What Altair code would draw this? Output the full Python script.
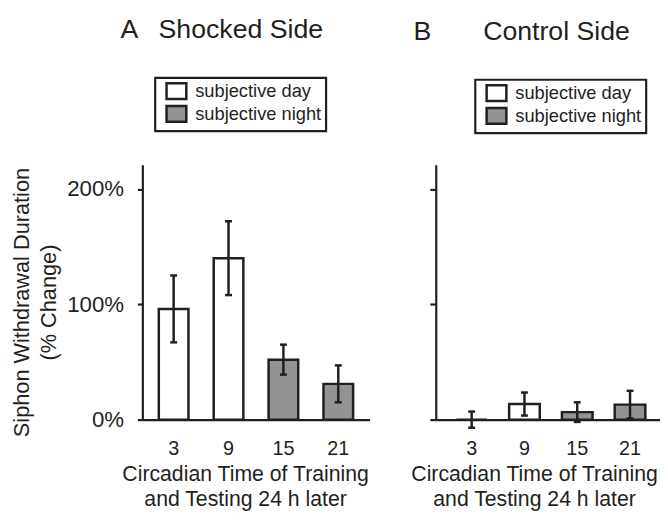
import altair as alt
import pandas as pd

# ---- data ----
ct = ["3", "9", "15", "21"]
phase = ["subjective day", "subjective day", "subjective night", "subjective night"]
shocked_mean = [96, 140, 52, 31]
shocked_sem = [29, 32, 13, 16]
control_mean = [0, 13.5, 6.5, 13]
control_sem = [7, 10, 8.5, 12]
phase_domain = ["subjective day", "subjective night"]
y_ticks = [0, 100, 200]

INK = "#231f20"
GRAY = "#939393"
FONT = "Liberation Sans"
PLOT_H = 258


def panel(means, sems, title_text, title_dx, legend_x, legend_y, width,
          pad_inner, pad_outer, show_y_labels, x_title_x):
    df = pd.DataFrame({
        "ct": ct,
        "phase": phase,
        "mean": means,
        "lo": [m - s for m, s in zip(means, sems)],
        "hi": [m + s for m, s in zip(means, sems)],
    })
    y_scale = alt.Scale(domain=[0, 221], nice=False, zero=False)
    x_axis = alt.Axis(
        labelAngle=0, labelFontSize=20, labelPadding=19, ticks=False, tickSize=0,
        title=["Circadian Time of Training", "and Testing 24 h later"],
        titleFontSize=21.5, titleLineHeight=25.5, titlePadding=5.5,
        titleFontWeight="normal", titleX=x_title_x,
    )
    if show_y_labels:
        y_axis = alt.Axis(
            values=y_ticks, labelExpr="datum.value + '%'", labelFontSize=22.5,
            labelPadding=14, tickSize=5,
            title=["Siphon Withdrawal Duration", "(% Change)"],
            titleFontSize=22, titleLineHeight=28, titlePadding=6,
            titleFontWeight="normal", titleY=139,
        )
    else:
        y_axis = alt.Axis(values=y_ticks, labels=False, tickSize=6, title=None)

    x = alt.X("ct:N", sort=ct,
              scale=alt.Scale(paddingInner=pad_inner, paddingOuter=pad_outer),
              axis=x_axis)
    base = alt.Chart(df)
    bars = base.mark_bar(stroke=INK, strokeWidth=2.5).encode(
        x=x,
        y=alt.Y("mean:Q", scale=y_scale, axis=y_axis),
        fill=alt.Fill(
            "phase:N",
            scale=alt.Scale(domain=phase_domain, range=["white", GRAY]),
            legend=alt.Legend(
                title=None, orient="none", legendX=legend_x, legendY=legend_y,
                symbolType="M-1.25,-1H1.25V1H-1.25Z", symbolSize=256,
                symbolStrokeColor=INK, symbolStrokeWidth=2.5, symbolOffset=8,
                labelFontSize=18.5, labelFont=FONT, labelColor=INK,
                labelOffset=9.5, labelLimit=400, rowPadding=-4.3, padding=4,
                strokeColor=INK,
            ),
        ),
    )
    rules = base.mark_rule(color=INK, strokeWidth=2.5).encode(
        x=alt.X("ct:N", sort=ct), y=alt.Y("lo:Q"), y2="hi:Q"
    )
    cap_hi = base.mark_tick(color=INK, thickness=2.5, size=7, opacity=1).encode(
        x=alt.X("ct:N", sort=ct), y=alt.Y("hi:Q")
    )
    cap_lo = base.mark_tick(color=INK, thickness=2.5, size=7, opacity=1).encode(
        x=alt.X("ct:N", sort=ct), y=alt.Y("lo:Q")
    )
    return alt.layer(bars, rules, cap_hi, cap_lo).properties(
        width=width, height=PLOT_H,
        title=alt.TitleParams(text=title_text, anchor="start", frame="group",
                              dx=title_dx, offset=33),
    )


left = panel(shocked_mean, shocked_sem, "A\u00a0\u00a0\u2009Shocked Side", -22,
             13, -88, 230, 0.46, 0.3, True, 104)
right = panel(control_mean, control_sem,
              "B\u00a0\u00a0\u00a0\u00a0\u00a0\u00a0\u00a0Control Side", -22.5,
              40, -86, 233, 0.42, 0.39, False, 99.5)

chart = (
    alt.hconcat(left, right, spacing=67, bounds="flush")
    .resolve_scale(fill="independent", x="independent", y="independent")
    .resolve_legend(fill="independent")
    .properties(
        autosize=alt.AutoSizeParams(type="none"),
        padding={"left": 136, "top": 154, "right": 524, "bottom": 349},
    )
    .configure_view(stroke=None)
    .configure_axis(
        domainColor=INK, tickColor=INK, labelColor=INK, titleColor=INK,
        labelFont=FONT, titleFont=FONT, grid=False, domainWidth=2.2,
        tickWidth=2.2,
    )
    .configure_legend(strokeWidth=2.2)
    .configure_title(font=FONT, color=INK, fontSize=27, fontWeight="normal")
)

chart.save("out.html", embed_options={"renderer": "svg", "actions": False})
